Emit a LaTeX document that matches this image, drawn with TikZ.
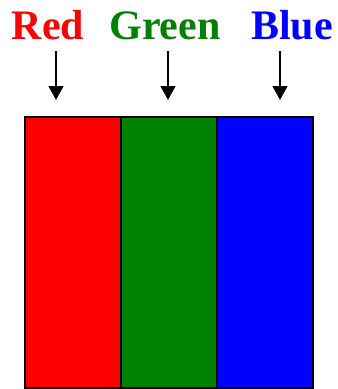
\documentclass[tikz,border=0pt]{standalone}
\usepackage{fontspec}
\setmainfont{Liberation Serif}
\usetikzlibrary{arrows.meta}
\definecolor{gr}{RGB}{0,128,0}
\begin{document}
\begin{tikzpicture}[x=1pt,y=-1pt,
  cell/.style={draw=black,line width=1.5pt,minimum width=96pt,minimum height=271pt,inner sep=0pt,anchor=north west},
  lab/.style={font=\fontsize{42}{42}\selectfont\bfseries,anchor=base,inner sep=0pt},
  arr/.style={line width=1.5pt,-{Triangle[width=15pt,length=14pt]}}]
\useasboundingbox (0,0) rectangle (338,389);
\node[cell,fill=red] (r) at (24,116) {};
\node[cell,fill=gr] (g) at (120,116) {};
\node[cell,fill=blue] (b) at (216,116) {};
\node[lab,text=red] (lr) at (48,39) {Red};
\node[lab,text=gr] (lg) at (165,39) {Green};
\node[lab,text=blue] (lb) at (292,39) {Blue};
\coordinate (ar1) at (56,51); \coordinate (ar2) at (56,100);
\coordinate (ag1) at (168,51); \coordinate (ag2) at (168,100);
\coordinate (ab1) at (280,51); \coordinate (ab2) at (280,100);
\draw[arr] (ar1) -- (ar2);
\draw[arr] (ag1) -- (ag2);
\draw[arr] (ab1) -- (ab2);
\end{tikzpicture}
\end{document}
